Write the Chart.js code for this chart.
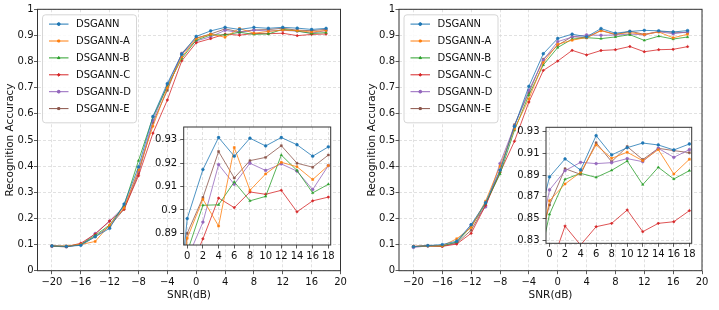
<!DOCTYPE html>
<html>
<head>
<meta charset="utf-8">
<script src="https://cdn.jsdelivr.net/npm/chart.js@4.4.0/dist/chart.umd.min.js"></script>
<style>
  html, body { margin: 0; padding: 0; background: #fff; }
  #wrap { position: relative; width: 719px; height: 310px; overflow: hidden; }
  #wrap canvas { position: absolute; }
</style>
</head>
<body>
<div id="wrap">
  <canvas id="main-left" width="360" height="310" style="left:0;top:0"></canvas>
  <canvas id="main-right" width="359" height="310" style="left:360px;top:0"></canvas>
  <canvas id="inset-left" width="192" height="145" style="left:150px;top:118px"></canvas>
  <canvas id="inset-right" width="200" height="145" style="left:505px;top:118px"></canvas>
</div>
<script>
// SNR values (dB) and axis ticks
const snr = [-20, -18, -16, -14, -12, -10, -8, -6, -4, -2, 0, 2, 4, 6, 8, 10, 12, 14, 16, 18];
const snrTicks = [-20, -16, -12, -8, -4, 0, 4, 8, 12, 16, 20];
const insetTicks = [0, 2, 4, 6, 8, 10, 12, 14, 16, 18];
const accTicks = [0, 0.1, 0.2, 0.3, 0.4, 0.5, 0.6, 0.7, 0.8, 0.9, 1];
const insetLeftTicks = [0.89, 0.9, 0.91, 0.92, 0.93];
const insetRightTicks = [0.83, 0.85, 0.87, 0.89, 0.91, 0.93];
const modelNames = ['DSGANN', 'DSGANN-A', 'DSGANN-B', 'DSGANN-C', 'DSGANN-D', 'DSGANN-E'];

// Left panel accuracies
const leftDSGANN  = [0.095, 0.093, 0.097, 0.130, 0.162, 0.255, 0.397, 0.590, 0.716, 0.828, 0.8963, 0.9173, 0.9310, 0.9230, 0.9307, 0.9274, 0.9310, 0.9279, 0.9230, 0.9270];
const leftDSGANNA = [0.095, 0.095, 0.100, 0.112, 0.175, 0.240, 0.385, 0.553, 0.700, 0.818, 0.8879, 0.9046, 0.8931, 0.9267, 0.9084, 0.9154, 0.9204, 0.9185, 0.9130, 0.9190];
const leftDSGANNB = [0.094, 0.093, 0.100, 0.135, 0.175, 0.250, 0.421, 0.588, 0.705, 0.812, 0.8820, 0.9020, 0.9022, 0.9120, 0.9039, 0.9058, 0.9235, 0.9169, 0.9073, 0.9110];
const leftDSGANNC = [0.095, 0.092, 0.105, 0.140, 0.190, 0.235, 0.363, 0.526, 0.653, 0.803, 0.8720, 0.8876, 0.9051, 0.9010, 0.9077, 0.9067, 0.9084, 0.8992, 0.9039, 0.9055];
const leftDSGANND = [0.093, 0.092, 0.100, 0.142, 0.190, 0.245, 0.380, 0.575, 0.710, 0.830, 0.8790, 0.8948, 0.9194, 0.9110, 0.9200, 0.9169, 0.9197, 0.9166, 0.9087, 0.9190];
const leftDSGANNE = [0.094, 0.091, 0.100, 0.130, 0.170, 0.235, 0.372, 0.567, 0.690, 0.832, 0.8900, 0.9053, 0.9250, 0.9137, 0.9211, 0.9225, 0.9275, 0.9200, 0.9183, 0.9235];

// Right panel accuracies
const rightDSGANN  = [0.092, 0.096, 0.100, 0.113, 0.176, 0.260, 0.385, 0.552, 0.705, 0.830, 0.8882, 0.9048, 0.8946, 0.9263, 0.9085, 0.9152, 0.9195, 0.9177, 0.9131, 0.9186];
const rightDSGANNA = [0.093, 0.095, 0.095, 0.122, 0.165, 0.266, 0.400, 0.542, 0.657, 0.796, 0.8663, 0.8817, 0.8925, 0.9177, 0.9054, 0.9110, 0.9032, 0.9134, 0.8909, 0.9045];
const rightDSGANNB = [0.092, 0.095, 0.095, 0.110, 0.168, 0.258, 0.370, 0.537, 0.672, 0.787, 0.8537, 0.8860, 0.8915, 0.8878, 0.8943, 0.9029, 0.8811, 0.8971, 0.8863, 0.8940];
const rightDSGANNC = [0.093, 0.095, 0.093, 0.102, 0.143, 0.250, 0.375, 0.495, 0.645, 0.766, 0.8020, 0.8429, 0.8254, 0.8423, 0.8454, 0.8577, 0.8377, 0.8454, 0.8469, 0.8571];
const rightDSGANND = [0.089, 0.095, 0.094, 0.108, 0.175, 0.244, 0.410, 0.553, 0.690, 0.805, 0.8762, 0.8940, 0.9017, 0.9005, 0.9014, 0.9051, 0.9023, 0.9146, 0.9063, 0.9134];
const rightDSGANNE = [0.092, 0.095, 0.095, 0.105, 0.155, 0.252, 0.380, 0.558, 0.682, 0.809, 0.8623, 0.8958, 0.8906, 0.9198, 0.9023, 0.9162, 0.9042, 0.9146, 0.9125, 0.9106];

const leftSeries = [leftDSGANN, leftDSGANNA, leftDSGANNB, leftDSGANNC, leftDSGANND, leftDSGANNE];
const rightSeries = [rightDSGANN, rightDSGANNA, rightDSGANNB, rightDSGANNC, rightDSGANND, rightDSGANNE];

// matplotlib tab10 colours + marker shapes
const colors = ['#1f77b4', '#ff7f0e', '#2ca02c', '#d62728', '#9467bd', '#8c564b'];
const markers = ['circle', 'rect', 'triangle', 'rectRot', 'circle', 'rect'];

Chart.defaults.font.family = '"DejaVu Sans", sans-serif';
Chart.defaults.font.size = 10;
Chart.defaults.color = '#111';

function fmt(v) {
  return String(Number(v.toFixed(3))).replace('-', '\u2212');
}

function makeDatasets(series) {
  return series.map((vals, i) => ({
    label: modelNames[i],
    data: snr.map((x, k) => ({x: x, y: vals[k]})),
    borderColor: colors[i],
    backgroundColor: colors[i],
    borderWidth: 0.8,
    pointStyle: markers[i],
    pointRadius: 1.4,
    pointBorderWidth: 0.5,
    pointBackgroundColor: colors[i],
    pointBorderColor: colors[i],
    tension: 0
  }));
}

// frame around the plot area (+ white fill for the insets)
const framePlugin = {
  id: 'frame',
  beforeDraw(chart, args, opts) {
    const a = chart.chartArea, ctx = chart.ctx;
    if (opts.fill) {
      ctx.save();
      ctx.fillStyle = opts.fill;
      ctx.fillRect(a.left, a.top, a.right - a.left, a.bottom - a.top);
      ctx.restore();
    }
  },
  afterDatasetsDraw(chart) {
    const a = chart.chartArea, ctx = chart.ctx;
    ctx.save();
    ctx.strokeStyle = '#333';
    ctx.lineWidth = 1;
    ctx.strokeRect(a.left, a.top, a.right - a.left, a.bottom - a.top);
    ctx.restore();
  }
};

// matplotlib-like legend box in the upper left corner
const boxLegend = {
  id: 'boxLegend',
  afterDatasetsDraw(chart) {
    const a = chart.chartArea, ctx = chart.ctx;
    const x0 = a.left + 5, y0 = a.top + 5.5, w = 94, h = 108, r = 3;
    ctx.save();
    ctx.beginPath();
    ctx.moveTo(x0 + r, y0);
    ctx.arcTo(x0 + w, y0, x0 + w, y0 + h, r);
    ctx.arcTo(x0 + w, y0 + h, x0, y0 + h, r);
    ctx.arcTo(x0, y0 + h, x0, y0, r);
    ctx.arcTo(x0, y0, x0 + w, y0, r);
    ctx.closePath();
    ctx.fillStyle = 'rgba(255,255,255,0.85)';
    ctx.fill();
    ctx.strokeStyle = '#cccccc';
    ctx.lineWidth = 0.8;
    ctx.stroke();
    chart.data.datasets.forEach((ds, i) => {
      const y = y0 + 9.3 + i * 16.9;
      ctx.strokeStyle = ds.borderColor;
      ctx.lineWidth = 1;
      ctx.beginPath();
      ctx.moveTo(x0 + 6.5, y);
      ctx.lineTo(x0 + 26, y);
      ctx.stroke();
      ctx.fillStyle = ds.borderColor;
      if (Chart.helpers && Chart.helpers.drawPoint) {
        Chart.helpers.drawPoint(ctx, {pointStyle: ds.pointStyle, radius: 1.4, rotation: 0, borderWidth: 0.5}, x0 + 16.25, y);
        ctx.fill();
      } else {
        ctx.beginPath();
        ctx.arc(x0 + 16.25, y, 1.4, 0, Math.PI * 2);
        ctx.fill();
      }
      ctx.fillStyle = '#111';
      ctx.font = '10px "DejaVu Sans", sans-serif';
      ctx.textBaseline = 'middle';
      ctx.textAlign = 'left';
      ctx.fillText(ds.label, x0 + 33.5, y + 0.5);
    });
    ctx.restore();
  }
};

const gridOpts = {color: '#d9d9d9', lineWidth: 0.8, tickColor: '#333', tickLength: 3.5, tickWidth: 0.8, tickBorderDash: []};
const borderOpts = {display: false, dash: [3, 2]};

function mainChart(id, series, yWidth, padRight, titlePad) {
  return new Chart(document.getElementById(id), {
    type: 'line',
    data: {datasets: makeDatasets(series)},
    plugins: [framePlugin, boxLegend],
    options: {
      responsive: false,
      animation: false,
      layout: {padding: {top: 9.3, right: padRight, bottom: 0, left: 0}},
      plugins: {legend: {display: false}, tooltip: {enabled: false}, frame: {}},
      scales: {
        x: {
          type: 'linear', min: -22, max: 20,
          afterBuildTicks: s => { s.ticks = snrTicks.map(v => ({value: v})); },
          afterFit: s => { s.height = 39.3; },
          ticks: {autoSkip: false, maxRotation: 0, padding: 2, callback: fmt},
          grid: gridOpts, border: borderOpts,
          title: {display: true, text: 'SNR(dB)', font: {size: 10.5}, padding: {top: 0, bottom: 8.7}}
        },
        y: {
          type: 'linear', min: 0, max: 1,
          afterBuildTicks: s => { s.ticks = accTicks.map(v => ({value: v})); },
          afterFit: s => { s.width = yWidth; },
          ticks: {autoSkip: false, padding: 0.5, callback: fmt},
          grid: gridOpts, border: borderOpts,
          title: {display: true, text: 'Recognition Accuracy', font: {size: 10.5}, padding: {top: titlePad, bottom: 0}}
        }
      }
    }
  });
}

function insetChart(id, series, yMin, yMax, yTicks, yWidth, xHeight, padTop, padRight) {
  const datasets = makeDatasets(series).map(d => Object.assign(d, {clip: 0}));
  return new Chart(document.getElementById(id), {
    type: 'line',
    data: {datasets: datasets},
    plugins: [framePlugin],
    options: {
      responsive: false,
      animation: false,
      layout: {padding: {top: padTop, right: padRight, bottom: 0, left: 0}},
      plugins: {legend: {display: false}, tooltip: {enabled: false}, frame: {fill: '#ffffff'}},
      scales: {
        x: {
          type: 'linear', min: -0.45, max: 18.3,
          afterBuildTicks: s => { s.ticks = insetTicks.map(v => ({value: v})); },
          afterFit: s => { s.height = xHeight; },
          ticks: {autoSkip: false, maxRotation: 0, padding: 2, callback: fmt},
          grid: gridOpts, border: borderOpts
        },
        y: {
          type: 'linear', min: yMin, max: yMax,
          afterBuildTicks: s => { s.ticks = yTicks.map(v => ({value: v})); },
          afterFit: s => { s.width = yWidth; },
          ticks: {autoSkip: false, padding: 3, callback: fmt},
          grid: gridOpts, border: borderOpts
        }
      }
    }
  });
}

mainChart('main-left', leftSeries, 37.5, 19.5, 3.7);
mainChart('main-right', rightSeries, 39, 17, 5.7);
insetChart('inset-left', leftSeries, 0.885, 0.9355, insetLeftTicks, 33.7, 18, 8, 11.3);
insetChart('inset-right', rightSeries, 0.827, 0.934, insetRightTicks, 41, 19.7, 9.3, 13.3);
</script>
</body>
</html>
